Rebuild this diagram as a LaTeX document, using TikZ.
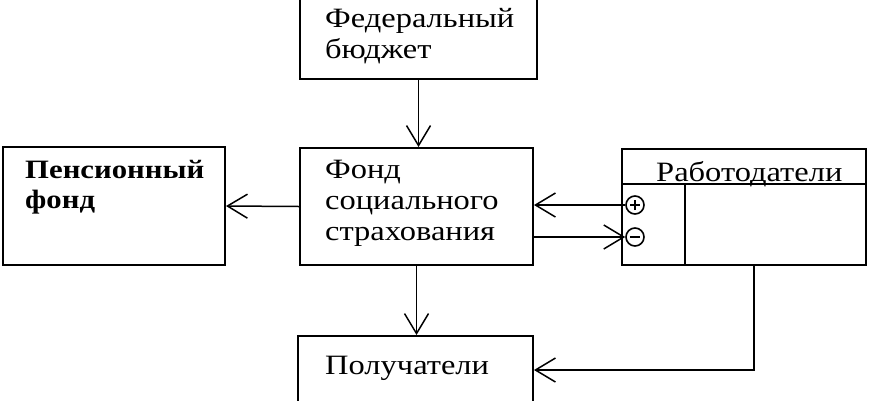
\documentclass[tikz,border=0pt]{standalone}
\usepackage{fontspec}
\setmainfont{Liberation Serif}[FakeStretch=1.16]
\usetikzlibrary{arrows.meta}
\begin{document}
\begin{tikzpicture}[x=1pt, y=-1pt, line join=miter,
    blok/.style={draw, line width=2pt, inner sep=0pt},
    tekst/.style={anchor=north west, inner sep=0pt, align=left, font=\fontsize{28}{31}\selectfont},
    znak/.style={circle, draw, line width=1.6pt, minimum size=18pt, inner sep=0pt},
    strelka/.style={line width=1.5pt, -{Straight Barb[length=20pt,width=24pt,line width=1.5pt]}}]
  \useasboundingbox (0,0) rectangle (870,400);
  \clip (0,0) rectangle (870,400);
  % boxes
  \node[blok, minimum width=237pt, minimum height=109pt] (byudzhet) at (418.5,24.5) {};
  \node[blok, minimum width=233pt, minimum height=117pt] (fond) at (416.5,206.5) {};
  \node[blok, minimum width=222pt, minimum height=118pt] (pensiya) at (114,206) {};
  \node[blok, minimum width=244pt, minimum height=116pt] (rabot) at (744,207) {};
  \node[blok, minimum width=235pt, minimum height=104pt] (poluch) at (415.5,388) {};
  \draw[line width=2pt] ([yshift=-36pt]rabot.north west) -- ([yshift=-36pt]rabot.north east);
  \draw[line width=2pt] ([xshift=64pt,yshift=-36pt]rabot.north west) -- ([xshift=64pt]rabot.south west);
  % texts
  \node[tekst] (byudzhet-t) at (325,8.5) {Федеральный\\бюджет};
  \node[tekst] (fond-t) at (325,160) {Фонд\\социального\\страхования};
  \node[tekst, font=\fontsize{26.5}{30}\selectfont\bfseries] (pensiya-t) at (25,160) {Пенсионный\\фонд};
  \node[tekst] (rabot-t) at (656,161) {Работодатели};
  \node[tekst] (poluch-t) at (325,356) {Получатели};
  % plus and minus
  \node[znak] (plus) at (635,205) {};
  \node[znak] (minus) at (635,237) {};
  \draw[line width=1.5pt] ([xshift=-5pt]plus.center) -- ([xshift=5pt]plus.center)
    ([yshift=-5pt]plus.center) -- ([yshift=5pt]plus.center);
  \draw[line width=1.5pt] ([xshift=-5pt]minus.center) -- ([xshift=5pt]minus.center);
  % arrows
  \coordinate (vyhod) at ([xshift=133pt]rabot.south west);
  \draw[strelka] (byudzhet.south) -- (byudzhet.south |- fond.north);
  \draw[strelka] (fond.west) -- (pensiya.east);
  \draw[strelka] (plus.west) -- (plus.west -| fond.east);
  \draw[strelka] (minus.west -| fond.east) -- (minus.west);
  \draw[strelka] (fond.south) -- (fond.south |- poluch.north);
  \draw[strelka] (vyhod) |- ([yshift=18pt]poluch.east);
\end{tikzpicture}
\end{document}
